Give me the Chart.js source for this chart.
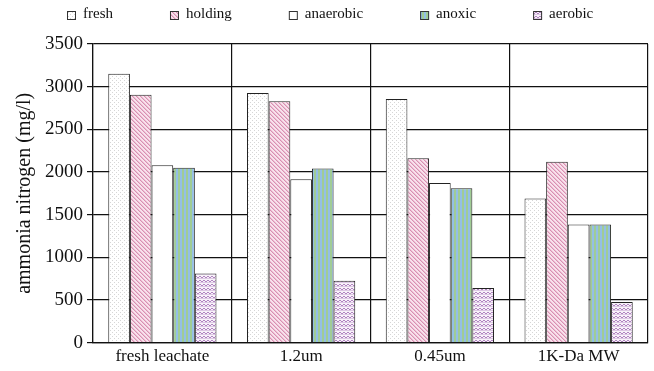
<!DOCTYPE html>
<html>
<head>
<meta charset="utf-8">
<script src="https://cdn.jsdelivr.net/npm/chart.js@4/dist/chart.umd.min.js"></script>
<style>
  html, body { margin: 0; padding: 0; background: #fff; }
  #wrap { width: 654px; height: 371px; }
</style>
</head>
<body>
<div id="wrap"><canvas id="chart"></canvas></div>
<script>
// values (mg/l)
const categories = ["fresh leachate", "1.2um", "0.45um", "1K-Da MW"];
const fresh = [3150, 2925, 2855, 1690];
const holding = [2905, 2830, 2160, 2120];
const anaerobic = [2080, 1915, 1870, 1385];
const anoxic = [2050, 2040, 1810, 1385];
const aerobic = [810, 725, 640, 475];
const yTicks = [0, 500, 1000, 1500, 2000, 2500, 3000, 3500];

// small tile patterns to mimic the hatched fills of the original
function makePattern(w, h, draw) {
  const c = document.createElement("canvas");
  c.width = w;
  c.height = h;
  const g = c.getContext("2d");
  draw(g);
  return g.createPattern(c, "repeat");
}

const dotFill = makePattern(4, 4, (g) => {
  g.fillStyle = "#ffffff";
  g.fillRect(0, 0, 4, 4);
  g.fillStyle = "#d6d6d6";
  g.fillRect(0, 0, 1, 1);
  g.fillRect(2, 2, 1, 1);
});

const diagFill = makePattern(4, 4, (g) => {
  g.fillStyle = "#f8e2ec";
  g.fillRect(0, 0, 4, 4);
  g.fillStyle = "#d890b2";
  for (let i = 0; i < 4; i++) g.fillRect(i, i, 1, 1);
  g.fillStyle = "#ecbcd2";
  for (let i = 0; i < 4; i++) g.fillRect((i + 1) % 4, i, 1, 1);
});

const stripeFill = makePattern(4, 4, (g) => {
  g.fillStyle = "#94bfe6";
  g.fillRect(0, 0, 2, 4);
  g.fillStyle = "#a0cc96";
  g.fillRect(2, 0, 2, 4);
});

const zigFill = makePattern(4, 4, (g) => {
  g.fillStyle = "#f8f2f9";
  g.fillRect(0, 0, 4, 4);
  g.fillStyle = "#b084c0";
  g.fillRect(0, 0, 1, 1);
  g.fillRect(1, 1, 1, 1);
  g.fillRect(2, 1, 1, 1);
  g.fillRect(3, 0, 1, 1);
  g.fillStyle = "#ddc8e4";
  g.fillRect(0, 2, 4, 1);
});

const serif = "'Liberation Serif', 'Times New Roman', serif";

function series(label, data, fill) {
  return {
    label,
    data,
    backgroundColor: fill,
    borderColor: "#222",
    borderWidth: 1,
    barPercentage: 1.0,
    categoryPercentage: 0.78,
  };
}

// the original legend is one widely spaced row above the plot; the built-in
// legend wraps with that much padding, so draw the row here instead
const LEGEND = { box: 9, gap: 7, spacing: 57, centerX: 330, centerY: 14, font: 15 };
const topLegend = {
  id: "topLegend",
  afterDraw(chart) {
    const ctx = chart.ctx;
    const sets = chart.data.datasets;
    ctx.save();
    ctx.font = `${LEGEND.font}px ${serif}`;
    ctx.textBaseline = "middle";
    ctx.textAlign = "left";
    const widths = sets.map((d) => ctx.measureText(d.label).width);
    const total = widths.reduce((s, w) => s + LEGEND.box + LEGEND.gap + w, 0) + LEGEND.spacing * (sets.length - 1);
    let x = Math.round(LEGEND.centerX - total / 2);
    sets.forEach((d, i) => {
      const by = Math.round(LEGEND.centerY - LEGEND.box / 2 + 1);
      ctx.fillStyle = d.backgroundColor;
      ctx.fillRect(x, by, LEGEND.box, LEGEND.box);
      ctx.strokeStyle = "#333";
      ctx.lineWidth = 1;
      ctx.strokeRect(x + 0.5, by + 0.5, LEGEND.box - 1, LEGEND.box - 1);
      ctx.fillStyle = "#111";
      ctx.fillText(d.label, x + LEGEND.box + LEGEND.gap, LEGEND.centerY);
      x += LEGEND.box + LEGEND.gap + widths[i] + LEGEND.spacing;
    });
    ctx.restore();
  },
};

new Chart(document.getElementById("chart"), {
  type: "bar",
  data: {
    labels: categories,
    datasets: [
      series("fresh", fresh, dotFill),
      series("holding", holding, diagFill),
      series("anaerobic", anaerobic, "#ffffff"),
      series("anoxic", anoxic, stripeFill),
      series("aerobic", aerobic, zigFill),
    ],
  },
  plugins: [topLegend],
  options: {
    responsive: true,
    maintainAspectRatio: false,
    animation: false,
    layout: { padding: { top: 44, right: 6, bottom: 0, left: 13 } },
    plugins: {
      legend: { display: false },
      tooltip: { enabled: false },
    },
    scales: {
      x: {
        grid: { offset: true, color: "#111", lineWidth: 1.2, drawTicks: false },
        border: { color: "#111", width: 1.2 },
        ticks: { color: "#111", font: { family: serif, size: 17 }, padding: 4 },
      },
      y: {
        min: 0,
        max: 3500,
        afterBuildTicks: (axis) => {
          axis.ticks = yTicks.map((v) => ({ value: v }));
        },
        grid: { color: "#111", lineWidth: 1.2, tickLength: 6 },
        border: { color: "#111", width: 1.2 },
        ticks: {
          color: "#111",
          font: { family: serif, size: 19 },
          padding: 4,
          callback: (v) => String(v),
        },
        title: {
          display: true,
          text: "ammonia nitrogen (mg/l)",
          color: "#111",
          font: { family: serif, size: 20 },
          padding: { top: 0, bottom: 4 },
        },
      },
    },
  },
});
</script>
</body>
</html>
